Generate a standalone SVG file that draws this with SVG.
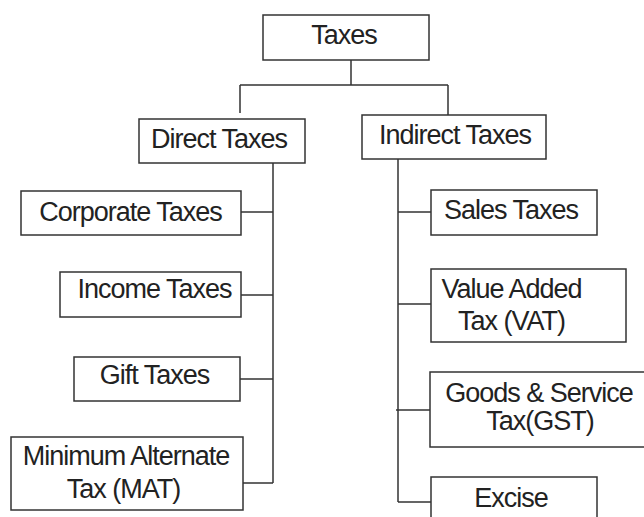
<svg xmlns="http://www.w3.org/2000/svg" width="644" height="517" viewBox="0 0 644 517">
<style>
.box{fill:#fff;stroke:#333;stroke-width:1.5}
.ln{fill:none;stroke:#333;stroke-width:1.5}
text{font-family:"Liberation Sans",Arial,sans-serif;font-size:27px;letter-spacing:-1px;fill:#222;text-anchor:middle}
</style>
<rect width="644" height="517" fill="#fff"/>
<g id="connectors">
<path class="ln" d="M351 60V85M240 85H448M240 85V113M448 85V115"/>
<path class="ln" d="M273 163V483M241 212H273M241 295H273M240 379H273M243 483H273"/>
<path class="ln" d="M398 159V502M398 212H431M398 304H431M396 410H430M398 502H431"/>
</g>
<g id="taxes"><rect class="box" x="263" y="15" width="166" height="45"/><text x="344" y="44">Taxes</text></g>
<g id="direct"><rect class="box" x="139" y="119" width="166" height="44"/><text x="219" y="148">Direct Taxes</text></g>
<g id="indirect"><rect class="box" x="362" y="115" width="184" height="44"/><text x="455" y="144">Indirect Taxes</text></g>
<g id="corporate"><rect class="box" x="21" y="191" width="220" height="44"/><text x="130.5" y="221">Corporate Taxes</text></g>
<g id="income"><rect class="box" x="60" y="272" width="181" height="45"/><text x="154.5" y="298">Income Taxes</text></g>
<g id="gift"><rect class="box" x="74" y="357" width="166" height="44"/><text x="154.5" y="384">Gift Taxes</text></g>
<g id="mat"><rect class="box" x="11" y="437" width="232" height="73"/><text x="126" y="465">Minimum Alternate</text><text x="123.5" y="498">Tax (MAT)</text></g>
<g id="sales"><rect class="box" x="431" y="190" width="166" height="45"/><text x="511" y="219">Sales Taxes</text></g>
<g id="vat"><rect class="box" x="431" y="269" width="195" height="73"/><text x="511.5" y="298">Value Added</text><text x="511.5" y="330">Tax (VAT)</text></g>
<g id="gst"><rect class="box" x="430" y="372" width="220" height="75"/><text x="539" y="402">Goods &amp; Service</text><text x="540" y="430">Tax(GST)</text></g>
<g id="excise"><rect class="box" x="431" y="477" width="166" height="50"/><text x="511" y="507">Excise</text></g>
</svg>
